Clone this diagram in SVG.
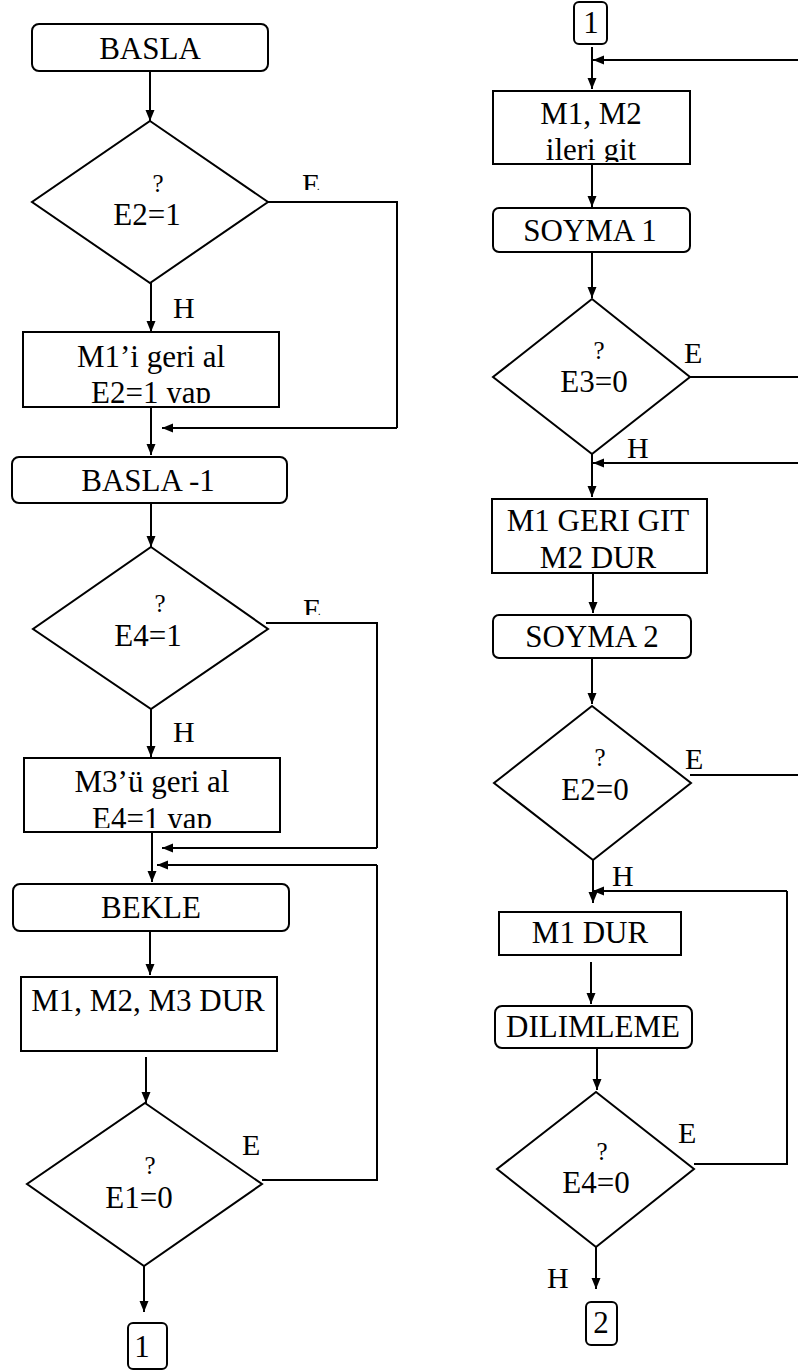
<svg xmlns="http://www.w3.org/2000/svg" width="798" height="1371" viewBox="0 0 798 1371">
<style>
.box{fill:#fff;stroke:#000;stroke-width:2}
.t{font-family:"Liberation Serif","Times New Roman",serif;font-size:31px;fill:#000;text-anchor:middle}
.l{font-family:"Liberation Serif","Times New Roman",serif;font-size:30px;fill:#000}
.q{font-family:"Liberation Serif","Times New Roman",serif;font-size:25px;fill:#000;text-anchor:middle}
.c{fill:none;stroke:#000;stroke-width:2}
.a{fill:none;stroke:#000;stroke-width:2;marker-end:url(#ah)}
</style>
<defs>
<marker id="ah" markerUnits="userSpaceOnUse" markerWidth="11" markerHeight="11" viewBox="0 0 11 11" refX="11" refY="5.5" orient="auto">
<path d="M0,1 L11,5.5 L0,10 Z" fill="#000"/>
</marker>
<clipPath id="cb1"><rect x="23" y="332" width="256" height="71"/></clipPath>
<clipPath id="cb2"><rect x="24" y="758" width="256" height="70"/></clipPath>
<clipPath id="cb3"><rect x="493" y="91" width="197" height="71"/></clipPath>
<clipPath id="ce1"><rect x="295" y="160" width="40" height="30"/></clipPath>
<clipPath id="ce2"><rect x="295" y="585" width="40" height="30"/></clipPath>
</defs>
<rect width="798" height="1371" fill="#fff"/>

<g id="connectors">
<path class="a" d="M150,71 V121"/>
<path class="a" d="M151,283 V332"/>
<path class="c" d="M268,202 H397 V428"/>
<path class="a" d="M397,428 H162"/>
<path class="a" d="M151,407 V455"/>
<path class="a" d="M151,503 V547"/>
<path class="a" d="M151,709 V757"/>
<path class="c" d="M266,623 H377 V848"/>
<path class="a" d="M377,848 H162"/>
<path class="a" d="M152,832 V882"/>
<path class="c" d="M262,1180 H377 V865"/>
<path class="a" d="M377,865 H157"/>
<path class="a" d="M150,931 V975"/>
<path class="a" d="M146,1057 V1103"/>
<path class="a" d="M144,1266 V1312"/>

<path class="a" d="M592,47 V89"/>
<path class="a" d="M798,60 H593"/>
<path class="a" d="M592,164 V207"/>
<path class="a" d="M592,252 V298"/>
<path class="c" d="M690,377 H798"/>
<path class="a" d="M798,463 H593"/>
<path class="a" d="M592,454 V497"/>
<path class="a" d="M593,570 V613"/>
<path class="a" d="M592,658 V704"/>
<path class="c" d="M690,775 H798"/>
<path class="a" d="M593,860 V903"/>
<path class="c" d="M694,1164 H787 V891"/>
<path class="a" d="M787,891 H593"/>
<path class="a" d="M591,962 V1004"/>
<path class="a" d="M597,1048 V1090"/>
<path class="a" d="M596,1247 V1289"/>
</g>

<g id="basla">
<rect class="box" x="32" y="24" width="236" height="47" rx="7"/>
<text class="t" x="150" y="59">BASLA</text>
</g>
<g id="d-e2-1">
<polygon class="box" points="150,121 268,202 150,283 32,202"/>
<text class="q" x="158" y="192">?</text>
<text class="t" x="147" y="225">E2=1</text>
<text class="l" x="302" y="194" clip-path="url(#ce1)">E</text>
<text class="l" x="173" y="318">H</text>
</g>
<g id="m1-geri">
<rect class="box" x="23" y="332" width="256" height="75"/>
<text class="t" x="151" y="367">M1’i geri al</text>
<text class="t" x="151" y="403" clip-path="url(#cb1)">E2=1 yap</text>
</g>
<g id="basla-1">
<rect class="box" x="12" y="457" width="275" height="46" rx="7"/>
<text class="t" x="148" y="491">BASLA -1</text>
</g>
<g id="d-e4-1">
<polygon class="box" points="151,547 268,629 151,709 33,629"/>
<text class="q" x="160" y="612">?</text>
<text class="t" x="148" y="646">E4=1</text>
<text class="l" x="303" y="619" clip-path="url(#ce2)">E</text>
<text class="l" x="173" y="742">H</text>
</g>
<g id="m3-geri">
<rect class="box" x="24" y="758" width="256" height="74"/>
<text class="t" x="152" y="792">M3’ü geri al</text>
<text class="t" x="152" y="829" clip-path="url(#cb2)">E4=1 yap</text>
</g>
<g id="bekle">
<rect class="box" x="13" y="884" width="276" height="47" rx="7"/>
<text class="t" x="151" y="918">BEKLE</text>
</g>
<g id="dur-all">
<rect class="box" x="21" y="977" width="256" height="74"/>
<text class="t" x="148" y="1011">M1, M2, M3 DUR</text>
</g>
<g id="d-e1-0">
<polygon class="box" points="145,1103 262,1184 144,1266 27,1184"/>
<text class="q" x="150" y="1174">?</text>
<text class="t" x="139" y="1208">E1=0</text>
<text class="l" x="242" y="1155">E</text>
</g>
<g id="conn-1-out">
<rect class="box" x="128" y="1323" width="39" height="46" rx="5"/>
<text class="t" x="142" y="1357">1</text>
</g>

<g id="conn-1-in">
<rect class="box" x="574" y="2" width="33" height="42" rx="5"/>
<text class="t" x="591" y="33">1</text>
</g>
<g id="ileri">
<rect class="box" x="493" y="91" width="197" height="73"/>
<text class="t" x="591" y="124">M1, M2</text>
<text class="t" x="591" y="160" clip-path="url(#cb3)">ileri git</text>
</g>
<g id="soyma1">
<rect class="box" x="493" y="208" width="197" height="44" rx="6"/>
<text class="t" x="590" y="241">SOYMA 1</text>
</g>
<g id="d-e3-0">
<polygon class="box" points="592,299 690,377 592,454 493,377"/>
<text class="q" x="599" y="359">?</text>
<text class="t" x="594" y="392">E3=0</text>
<text class="l" x="684" y="363">E</text>
<text class="l" x="627" y="458">H</text>
</g>
<g id="geri-git">
<rect class="box" x="492" y="499" width="215" height="74"/>
<text class="t" x="598" y="531">M1 GERI GIT</text>
<text class="t" x="598" y="568">M2 DUR</text>
</g>
<g id="soyma2">
<rect class="box" x="493" y="615" width="198" height="43" rx="6"/>
<text class="t" x="592" y="647">SOYMA 2</text>
</g>
<g id="d-e2-0">
<polygon class="box" points="592,706 691,783 593,860 494,783"/>
<text class="q" x="600" y="766">?</text>
<text class="t" x="595" y="800">E2=0</text>
<text class="l" x="685" y="769">E</text>
<text class="l" x="612" y="886">H</text>
</g>
<g id="m1-dur">
<rect class="box" x="499" y="912" width="182" height="43"/>
<text class="t" x="590" y="943">M1 DUR</text>
</g>
<g id="dilimleme">
<rect class="box" x="495" y="1006" width="197" height="42" rx="7"/>
<text class="t" x="593" y="1037">DILIMLEME</text>
</g>
<g id="d-e4-0">
<polygon class="box" points="596,1092 694,1169 596,1247 497,1169"/>
<text class="q" x="602" y="1160">?</text>
<text class="t" x="596" y="1193">E4=0</text>
<text class="l" x="678" y="1143">E</text>
<text class="l" x="547" y="1288">H</text>
</g>
<g id="conn-2">
<rect class="box" x="586" y="1302" width="31" height="43" rx="5"/>
<text class="t" x="601" y="1333">2</text>
</g>
</svg>
